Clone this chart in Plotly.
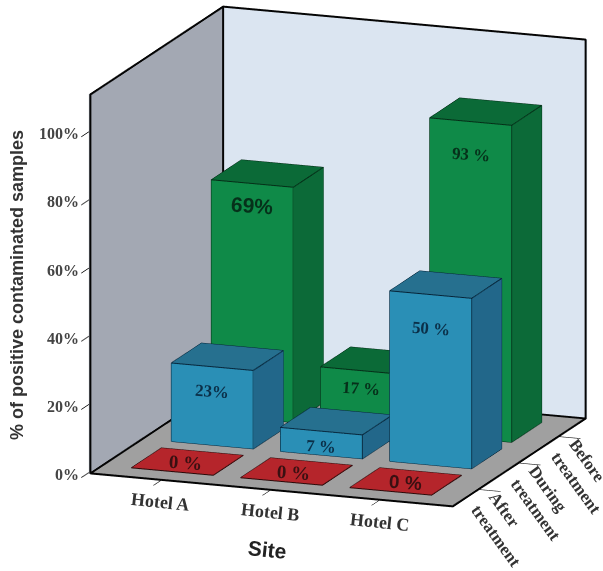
import plotly.graph_objects as go

# Contamination results per site and treatment stage
sites = ["Hotel A", "Hotel B", "Hotel C"]
stages = ["After<br>treatment", "During<br>treatment", "Before<br>treatment"]
after_values = [0, 0, 0]
during_values = [23, 7, 50]
before_values = [69, 17, 93]
z_ticks = [0, 20, 40, 60, 80, 100]
z_tick_text = ["0%", "20%", "40%", "60%", "80%", "100%"]
after_labels = ["0 %", "0 %", "0 %"]
during_labels = ["23%", "7 %", "50 %"]
before_labels = ["69%", "17 %", "93 %"]

X_RANGE = [-0.66, 2.68]
Y_RANGE = [-0.66, 2.68]
Z_RANGE = [-0.4, 111]
HALF = 0.375
BOX_SCALE = 1.516

PALETTE = {
    0: dict(front="#b5252b", side="#b5252b", top="#b5252b", edge="#2a0a0a"),
    1: dict(front="#2a8fb6", side="#22678a", top="#26708f", edge="#062438"),
    2: dict(front="#0f8a48", side="#0c6a38", top="#0b6a37", edge="#042c16"),
}


def bar_mesh(cx, cy, h, colors):
    x0, x1, y0, y1 = cx - HALF, cx + HALF, cy - HALF, cy + HALF
    xs = [x0, x1, x1, x0, x0, x1, x1, x0]
    ys = [y0, y0, y1, y1, y0, y0, y1, y1]
    zs = [0, 0, 0, 0, h, h, h, h]
    faces = [
        (0, 1, 5, "front"), (0, 5, 4, "front"),
        (1, 2, 6, "side"), (1, 6, 5, "side"),
        (4, 5, 6, "top"), (4, 6, 7, "top"),
        (0, 3, 7, "side"), (0, 7, 4, "side"),
        (3, 2, 6, "front"), (3, 6, 7, "front"),
        (0, 1, 2, "top"), (0, 2, 3, "top"),
    ]
    return go.Mesh3d(
        x=xs, y=ys, z=zs,
        i=[f[0] for f in faces], j=[f[1] for f in faces], k=[f[2] for f in faces],
        facecolor=[colors[f[3]] for f in faces],
        flatshading=True,
        lighting=dict(ambient=1, diffuse=0, specular=0, roughness=1, fresnel=0),
        hoverinfo="skip", showscale=False,
    )


def bar_edges(cx, cy, h, color):
    x0, x1, y0, y1 = cx - HALF, cx + HALF, cy - HALF, cy + HALF
    if h == 0:
        path = [(x0, y0, 0), (x1, y0, 0), (x1, y1, 0), (x0, y1, 0), (x0, y0, 0)]
    else:
        path = [
            (x0, y0, 0), (x1, y0, 0), (x1, y1, 0), (x1, y1, h), (x0, y1, h),
            (x0, y0, h), (x0, y0, 0), None,
            (x0, y0, h), (x1, y0, h), (x1, y1, h), None,
            (x1, y0, 0), (x1, y0, h),
        ]
    return go.Scatter3d(
        x=[p[0] if p else None for p in path],
        y=[p[1] if p else None for p in path],
        z=[p[2] if p else None for p in path],
        mode="lines", line=dict(color=color, width=2),
        hoverinfo="skip", showlegend=False,
    )


fig = go.Figure()
for row, values in enumerate([after_values, during_values, before_values]):
    for col, value in enumerate(values):
        fig.add_trace(bar_mesh(col, row, value, PALETTE[row]))
        fig.add_trace(bar_edges(col, row, value, PALETTE[row]["edge"]))

# Frame around the floor and the two walls, kept just inside the panes
xa, xb = X_RANGE[0] + 0.01, X_RANGE[1] - 0.01
ya, yb = Y_RANGE[0] + 0.01, Y_RANGE[1] - 0.01
za, zb = Z_RANGE[0] + 0.1, Z_RANGE[1] - 0.1
frame = [
    (xa, ya, za), (xb, ya, za), (xb, yb, za), (xb, yb, zb), (xa, yb, zb),
    (xa, ya, zb), (xa, ya, za), (xa, yb, za), (xb, yb, za), None,
    (xa, yb, za), (xa, yb, zb),
]
fig.add_trace(go.Scatter3d(
    x=[p[0] if p else None for p in frame],
    y=[p[1] if p else None for p in frame],
    z=[p[2] if p else None for p in frame],
    mode="lines", line=dict(color="#050505", width=4),
    hoverinfo="skip", showlegend=False,
))

annotations = []
SERIF = "Liberation Serif"
SANS = "Liberation Sans"


def value_label(col, y, z, text, family=SERIF, size=17, color="#10202a", nudge=0):
    annotations.append(dict(
        x=col, y=y, z=z, text=f"<b>{text}</b>", showarrow=False,
        font=dict(family=family, size=size, color=color), textangle=4,
        xanchor="center", yanchor="middle", yshift=nudge,
    ))


for col, text in enumerate(after_labels):
    family = SANS if col == 2 else SERIF
    value_label(col, 0, after_values[col], text, family=family, size=19,
                color="#3a1012", nudge=-1)
annotations[0]["xshift"] = -2
annotations[1]["xshift"] = -3

during_nudges = [6, -2, -3]
for col, (text, value) in enumerate(zip(during_labels, during_values)):
    value_label(col, 1 - HALF, value - (9 if value > 10 else 4), text,
                color="#0b2f48", nudge=during_nudges[col])

before_nudges = [9, 13, -2]
for col, (text, value) in enumerate(zip(before_labels, before_values)):
    is_sans = text == "69%"
    value_label(col, 2 - HALF, value - 9, text, family=SANS if is_sans else SERIF,
                size=21 if is_sans else 17, color="#06301a", nudge=before_nudges[col])

# Category labels hang below the floor edges
for col, text in enumerate(sites):
    annotations.append(dict(
        x=col, y=Y_RANGE[0], z=Z_RANGE[0], text=f"<b>{text}</b>", showarrow=False,
        font=dict(family=SERIF, size=18, color="#333333"), textangle=6,
        xshift=0, yshift=-22,
    ))
for row, text in enumerate(stages):
    annotations.append(dict(
        x=X_RANGE[1], y=row, z=Z_RANGE[0], text=f"<b>{text}</b>", showarrow=False,
        font=dict(family=SERIF, size=17, color="#333333"), textangle=54,
        xshift=25, yshift=-40, align="left",
    ))
# Percentage scale sits right-aligned beside the front wall edge
for value, text in zip(z_ticks, z_tick_text):
    annotations.append(dict(
        x=X_RANGE[0], y=Y_RANGE[0], z=value, text=f"<b>{text}</b>", showarrow=False,
        font=dict(family=SERIF, size=16, color="#444444"),
        xanchor="right", yanchor="middle", xshift=-8, yshift=-2,
    ))


def axis(rng, bg, **extra):
    return dict(
        range=rng, autorange=False, showgrid=False, zeroline=False, showline=False,
        showbackground=True, backgroundcolor=bg, showspikes=False,
        title=dict(text=""), **extra,
    )


fig.update_layout(
    width=603, height=571,
    margin=dict(l=0, r=0, t=0, b=0),
    paper_bgcolor="white",
    showlegend=False,
    hovermode=False,
    scene=dict(
        domain=dict(x=[0.121, 1.0], y=[0.1016, 1.0]),
        aspectmode="manual",
        aspectratio=dict(x=1.0 * BOX_SCALE, y=0.988 * BOX_SCALE, z=1.007 * BOX_SCALE),
        camera=dict(
            eye=dict(x=0.3372 * 2, y=-0.9093 * 2, z=0.2454 * 2),
            up=dict(x=0, y=0, z=1),
            center=dict(x=0, y=0, z=0),
            projection=dict(type="orthographic"),
        ),
        dragmode=False,
        xaxis=axis(X_RANGE, "#a3a8b3", tickvals=[0, 1, 2], ticktext=["", "", ""],
                   ticks="outside", ticklen=22, tickcolor="#222222", tickwidth=2),
        yaxis=axis(Y_RANGE, "#dbe5f1", tickvals=[0, 1, 2], ticktext=["", "", ""],
                   ticks="outside", ticklen=22, tickcolor="#222222", tickwidth=2),
        zaxis=axis(Z_RANGE, "#a0a0a0", tickvals=z_ticks, ticktext=[""] * len(z_ticks),
                   ticks="outside", ticklen=22, tickcolor="#222222", tickwidth=2),
        annotations=annotations,
    ),
    annotations=[
        dict(x=17 / 603, y=1 - 285 / 571, xref="paper", yref="paper", showarrow=False,
             xanchor="center", yanchor="middle",
             text="<b>% of positive contaminated samples</b>", textangle=-90,
             font=dict(family=SANS, size=18, color="#333333")),
        dict(x=267 / 603, y=1 - 549 / 571, xref="paper", yref="paper", showarrow=False,
             xanchor="center", yanchor="middle",
             text="<b>Site</b>", textangle=6,
             font=dict(family=SANS, size=21, color="#222222")),
    ],
)

fig.write_html("out.html", config=dict(displayModeBar=False))
